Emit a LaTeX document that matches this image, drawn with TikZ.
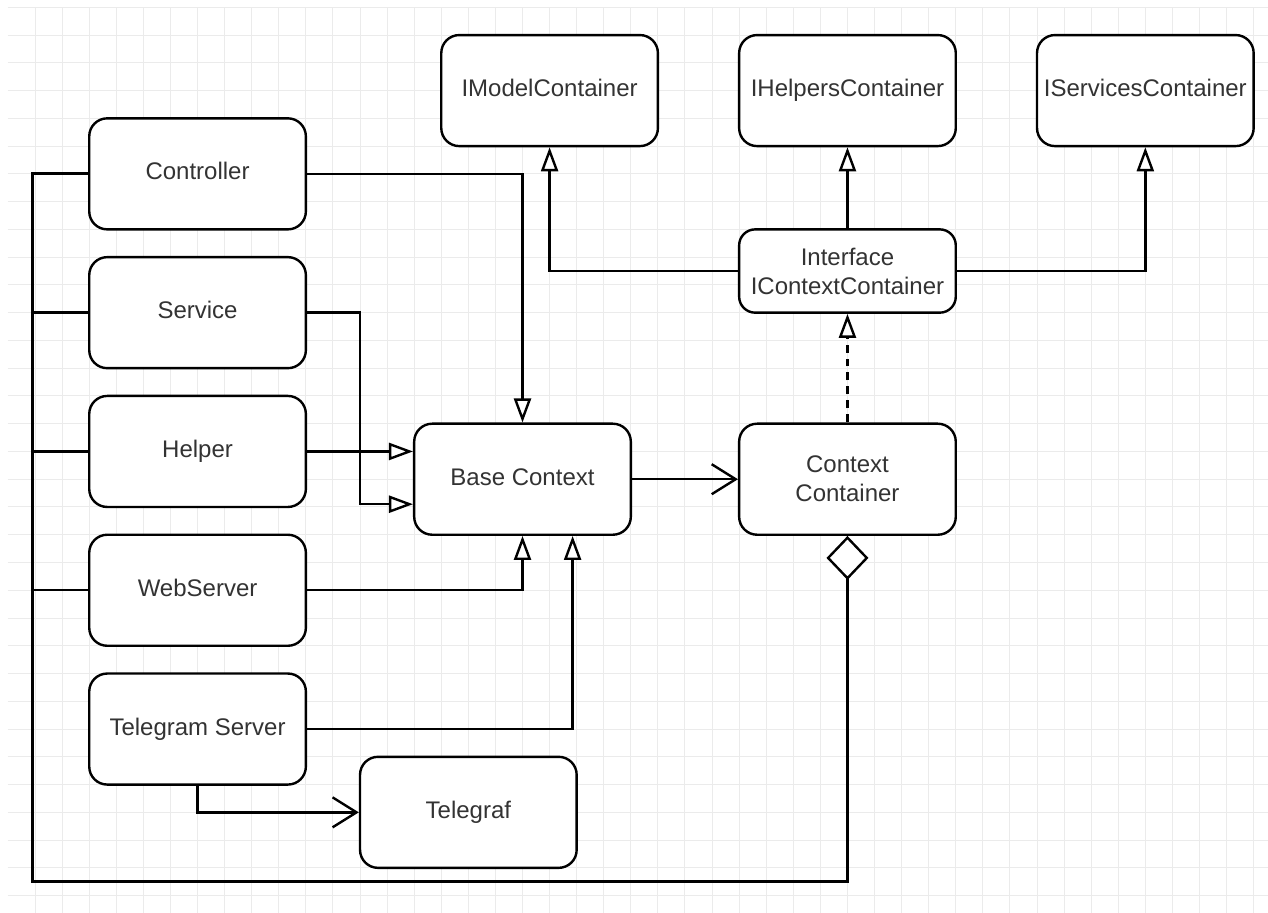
\documentclass[tikz,border=0pt]{standalone}
\usepackage{fontspec}
\setmainfont{Liberation Sans}
\usetikzlibrary{arrows.meta}
\definecolor{gridgray}{HTML}{EBEBEB}
\definecolor{textgray}{HTML}{333333}
\tikzset{
  box/.style={draw=black, line width=2.4pt, rounded corners=18pt, fill=white,
    minimum width=216.64pt, minimum height=111.04pt, align=center,
    text=textgray, font=\fontsize{24}{29}\selectfont, inner sep=2pt},
  oneline/.style={box, text height=17pt, text depth=5pt},
  flatbox/.style={box, minimum height=83.28pt, rounded corners=16pt},
  link/.style={draw=black, line width=2.4pt},
  realize/.style={link, -{Triangle[fill=white, length=24pt, width=17pt, line width=2.4pt]}},
  assoc/.style={link, -{Straight Barb[length=24pt, width=30pt, line width=2.4pt]}},
  owner/.style={link, line width=2.8pt, {Diamond[fill=white, length=44pt, width=42pt, line width=2.4pt]}-},
}
\begin{document}
\begin{tikzpicture}[x=27.08pt, y=-27.76pt]
  % canvas and background grid
  \fill[white] (-0.2954,-0.263) rectangle (46.53,32.626);
  \useasboundingbox (-0.2954,-0.263) rectangle (46.53,32.626);
  \foreach \k in {1,...,46} \draw[gridgray, line width=1pt] (\k,0) -- (\k,32.626);
  \foreach \j in {0,...,32} \draw[gridgray, line width=1pt] (0,\j) -- (46.53,\j);

  % classes on the left
  \node[oneline] (ctrl) at (7,6)  {Controller};
  \node[oneline] (svc)  at (7,11) {Service};
  \node[oneline] (help) at (7,16) {Helper};
  \node[oneline] (web)  at (7,21) {WebServer};
  \node[oneline] (tg)   at (7,26) {Telegram Server};
  \node[oneline] (tgf)  at (17,29) {Telegraf};

  % core
  \node[oneline] (base) at (19,17) {Base Context};
  \node[box] (cc)   at (31,17) {Context\\Container};
  \node[flatbox] (iface) at (31,9.5) {Interface\\IContextContainer};

  % interfaces
  \node[oneline] (imodel) at (20,3) {IModelContainer};
  \node[oneline] (ihelp)  at (31,3) {IHelpersContainer};
  \node[oneline] (iserv)  at (42,3) {IServicesContainer};

  % inheritance towards Base Context
  \draw[realize] (ctrl.east) -| (base.north);
  \draw[realize] (svc.east) -| (13,17.9) -- (13,17.9 -| base.west);
  \draw[realize] (help.east) -- (help.east -| base.west);
  \draw[realize] (web.east) -| (base.south);
  \draw[realize] (tg.east) -| (20.85,0 |- base.south);

  % Base Context uses the container
  \draw[assoc] (base.east) -- (cc.west);

  % interface realisation and its parents
  \draw[realize, dash pattern=on 8pt off 6pt] (cc.north) -- (iface.south);
  \draw[realize] (iface.north) -- (ihelp.south);
  \draw[realize] (iface.west) -| (imodel.south);
  \draw[realize] (iface.east) -| (iserv.south);

  % Telegram server drives Telegraf
  \draw[assoc] (tg.south) |- (tgf.west);

  % composition bus from the container to the left-hand classes
  \coordinate (bus) at (0.9,6);
  \draw[owner] (cc.south) |- (0.9,31.5) -- (bus) -- (ctrl.west);
  \draw[link] (svc.west) -- (svc.west -| bus);
  \draw[link] (help.west) -- (help.west -| bus);
  \draw[link] (web.west) -- (web.west -| bus);
\end{tikzpicture}
\end{document}
